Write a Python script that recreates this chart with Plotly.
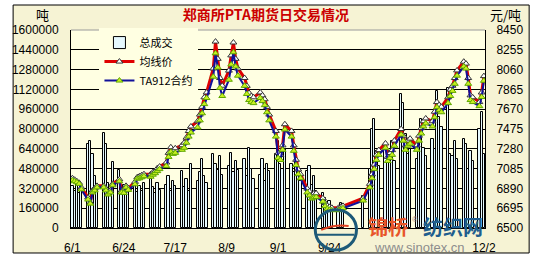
import pandas as pd
import plotly.graph_objects as go

# ---------------- data ----------------
holidays = ["2009-10-01", "2009-10-02", "2009-10-05", "2009-10-06", "2009-10-07", "2009-10-08"]
dates = [d for d in pd.bdate_range("2009-06-01", "2009-12-02") if d.strftime("%Y-%m-%d") not in holidays]

volume = [
    340000, 300000, 360000, 280000, 320000,
    680000, 700000, 600000, 420000, 330000,
    770000, 680000, 360000, 310000, 530000,
    470000, 300000, 350000, 280000, 320000,
    380000, 290000, 340000, 300000, 360000,
    400000, 330000, 280000, 360000, 310000,
    350000, 420000, 300000, 380000, 340000,
    460000, 330000, 400000, 300000, 520000,
    380000, 450000, 560000, 420000, 360000,
    600000, 520000, 470000, 580000, 430000,
    500000, 610000, 450000, 540000, 470000,
    560000, 420000, 650000, 480000, 400000,
    430000, 560000, 380000, 520000, 460000,
    600000, 700000, 520000, 480000, 640000,
    520000, 450000, 560000, 420000, 380000,
    460000, 500000, 350000, 420000, 300000,
    280000, 240000, 200000, 220000, 180000,
    160000, 200000, 170000,
    260000,
    480000, 800000, 880000, 620000, 500000,
    680000, 560000, 620000, 700000, 540000,
    1080000, 1010000, 760000, 600000, 640000,
    560000, 720000, 880000, 650000, 580000,
    720000, 640000, 1110000, 900000, 820000,
    1130000, 600000, 580000, 700000, 560000,
    720000, 680000, 480000, 620000, 540000,
    800000,
    940000, 600000,
]

avg_price = [
    6990, 6975, 6960, 6945, 6900,
    6800, 6750, 6870, 6890, 6915,
    6915, 6890, 6840, 6870, 6935,
    6980, 6870, 6860, 6915, 6890,
    6955, 7000, 7010, 7020, 7030,
    7030, 7050, 7060, 7090, 7105,
    7145, 7240, 7295, 7265, 7285,
    7315, 7340, 7390, 7455, 7500,
    7551, 7617, 7693, 7787, 7835,
    8071, 8336, 8166, 7977, 7901,
    8050, 8200, 8327, 8166, 8071,
    7977, 7900, 7830, 7800, 7787,
    7835, 7806, 7768, 7693, 7617,
    7456, 7238, 7219, 7314, 7522,
    7456, 7314, 7172, 7077, 7030,
    6888, 6860, 6822, 6841, 6841,
    6793, 6746, 6718, 6708, 6699,
    6699, 6708, 6718,
    6793,
    6935, 7030, 7125, 7219, 7267,
    7333, 7200, 7238, 7267, 7361,
    7475, 7409, 7314, 7361, 7380,
    7314, 7409, 7484, 7551, 7579,
    7551, 7645, 7740, 7712, 7693,
    7787, 7863, 7901, 7977, 8052,
    8138, 8119, 7977, 7806, 7787,
    7740,
    7835, 7996,
]

ta912 = [
    6970, 6960, 6950, 6935, 6880,
    6780, 6740, 6850, 6870, 6900,
    6900, 6870, 6830, 6850, 6920,
    6960, 6850, 6845, 6900, 6875,
    6930, 6985, 6990, 7000, 7010,
    7005, 7025, 7040, 7060, 7080,
    7110, 7200, 7250, 7230, 7240,
    7270, 7290, 7340, 7400, 7440,
    7490, 7560, 7630, 7720, 7780,
    7990, 8220, 8080, 7880, 7800,
    7960, 8110, 8230, 8090, 8000,
    7900, 7820, 7760, 7740, 7730,
    7780, 7750, 7710, 7640, 7560,
    7400, 7190, 7170, 7270, 7470,
    7400, 7260, 7120, 7030, 6990,
    6850, 6820, 6790, 6800, 6805,
    6760, 6715, 6690, 6680, 6675,
    6675, 6685, 6695,
    6770,
    6900, 6990, 7080, 7170, 7220,
    7290, 7160, 7190, 7220, 7310,
    7420, 7360, 7270, 7310, 7330,
    7270, 7360, 7430, 7500, 7530,
    7500, 7590, 7690, 7660, 7640,
    7730, 7800, 7850, 7920, 8000,
    8090, 8070, 7920, 7760, 7740,
    7700,
    7790, 7950,
]

# 10/17 and 11/9 sit under the site watermark in the reference and are not visible there
tick_dates = ["2009-06-01", "2009-06-24", "2009-07-17", "2009-08-09", "2009-09-01",
              "2009-09-24", "2009-10-17", "2009-11-09", "2009-12-02"]
tick_labels = ["6/1", "6/24", "7/17", "8/9", "9/1", "9/24", "", "", "12/2"]
vol_ticks = [0, 160000, 320000, 480000, 640000, 800000, 960000, 1120000, 1280000, 1440000, 1600000]
price_ticks = [6500, 6695, 6890, 7085, 7280, 7475, 7670, 7865, 8060, 8255, 8450]

series_names = ["总成交", "均线价", "TA912合约"]

# ---------------- layout helpers (pixel -> paper) ----------------
L, R, T, B = 63, 485, 30, 236
def px(x):
    return (x - L) / (R - L)
def py(y):
    return (B - y) / (B - T)

BEIGE = "#F6F3D4"
PLOT_BG = "#FFFFE2"

fig = go.Figure()
fig.add_trace(go.Bar(
    x=dates, y=volume, name=series_names[0],
    marker=dict(color="#E6F9FE", line=dict(color="black", width=1)),
    width=1.0 * 86400000, yaxis="y",
))
fig.add_trace(go.Scatter(
    x=dates, y=avg_price, name=series_names[1], yaxis="y2", mode="lines+markers",
    line=dict(color="#E00000", width=3),
    marker=dict(symbol="triangle-up", size=6, color="white", line=dict(color="#333333", width=1)),
))
fig.add_trace(go.Scatter(
    x=dates, y=ta912, name=series_names[2], yaxis="y2", mode="lines+markers",
    line=dict(color="#10109A", width=2),
    marker=dict(symbol="triangle-up", size=6, color="#C8F020", line=dict(color="#5FA800", width=1)),
))

tickfont = dict(family="Liberation Sans, Arial", size=12, color="black")

fig.update_layout(
    width=535, height=267,
    margin=dict(l=L, r=535 - R, t=T, b=267 - B),
    paper_bgcolor="white", plot_bgcolor=PLOT_BG,
    showlegend=True,
    bargap=0,
    title=dict(text="<b>郑商所PTA期货日交易情况</b>", x=0.497, xanchor="center", y=1 - 15 / 267, yanchor="middle",
               font=dict(family="Noto Sans CJK SC", size=14, color="#CC0000")),
    legend=dict(x=px(92), y=py(28), xanchor="left", yanchor="top", bgcolor=PLOT_BG,
                font=dict(family="Noto Sans CJK SC, Liberation Sans", size=11, color="black"),
                itemwidth=30, borderwidth=0, tracegroupgap=0),
    xaxis=dict(type="date", range=["2009-05-31 09:00", "2009-12-02 12:00"],
               tickmode="array", tickvals=tick_dates, ticktext=tick_labels,
               ticks="outside", ticklen=9, tickcolor="rgba(0,0,0,0)",
               showgrid=False, showline=True, linecolor="black", linewidth=1,
               tickfont=tickfont, zeroline=False),
    yaxis=dict(range=[0, 1600000], tickmode="array", tickvals=vol_ticks,
               ticktext=[str(v) for v in vol_ticks],
               ticks="outside", ticklen=9, tickcolor="rgba(0,0,0,0)",
               showgrid=True, gridcolor="black", gridwidth=1,
               showline=True, linecolor="black", linewidth=1, zeroline=False,
               tickfont=tickfont),
    yaxis2=dict(range=[6500, 8450], overlaying="y", side="right", tickmode="array",
                tickvals=price_ticks, ticktext=[str(v) for v in price_ticks],
                ticks="outside", ticklen=8, tickcolor="rgba(0,0,0,0)",
                showgrid=False, showline=True, linecolor="black", linewidth=1, zeroline=False,
                tickfont=tickfont),
)

shapes = [
    # outer framed background
    dict(type="rect", xref="paper", yref="paper", x0=px(4), x1=px(530), y0=py(262), y1=py(4),
         fillcolor=BEIGE, line=dict(color="black", width=1), layer="below"),
    # plot area background
    dict(type="rect", xref="paper", yref="paper", x0=0, x1=1, y0=0, y1=1,
         fillcolor=PLOT_BG, line=dict(width=0), layer="below"),
    # grey top frame line
    dict(type="line", xref="paper", yref="paper", x0=0, x1=1, y0=1, y1=1,
         line=dict(color="#9A9A9A", width=1), layer="above"),
    # watermark globe logo
    dict(type="circle", xref="paper", yref="paper", x0=px(312), x1=px(354), y0=py(259), y1=py(217),
         line=dict(color="#1E5A78", width=3), layer="above"),
    dict(type="path", xref="paper", yref="paper",
         path=f"M {px(318)} {py(238)} Q {px(332)} {py(232)} {px(346)} {py(234)}",
         line=dict(color="#E04020", width=2), layer="above"),
    dict(type="line", xref="paper", yref="paper", x0=px(313), x1=px(352), y0=py(243), y1=py(243),
         line=dict(color="#1E5A78", width=2), layer="above"),
]
fig.update_layout(shapes=shapes)

ann = [
    dict(text="吨", x=px(34), y=py(14), font=dict(family="Noto Sans CJK SC", size=13, color="black")),
    dict(text="元/吨", x=px(506), y=py(14), font=dict(family="Noto Sans CJK SC", size=13, color="black")),
    dict(text="www.sinotex.cn", x=px(418), y=py(256),
         font=dict(family="Liberation Sans, Arial", size=13, color="#8C8C8C")),
    dict(text="<b>锦桥</b>", x=px(386), y=py(234), font=dict(family="Noto Sans CJK SC", size=20, color="#E8562A")),
    dict(text="®", x=px(414), y=py(227), font=dict(family="Liberation Sans", size=8, color="#9A7070")),
    dict(text="<b>纺织网</b>", x=px(452), y=py(234), font=dict(family="Noto Sans CJK SC", size=20, color="#1F5E8E")),
]
for a in ann:
    a.update(xref="paper", yref="paper", showarrow=False, xanchor="center", yanchor="middle")
fig.update_layout(annotations=ann)

fig.write_html("out.html")
